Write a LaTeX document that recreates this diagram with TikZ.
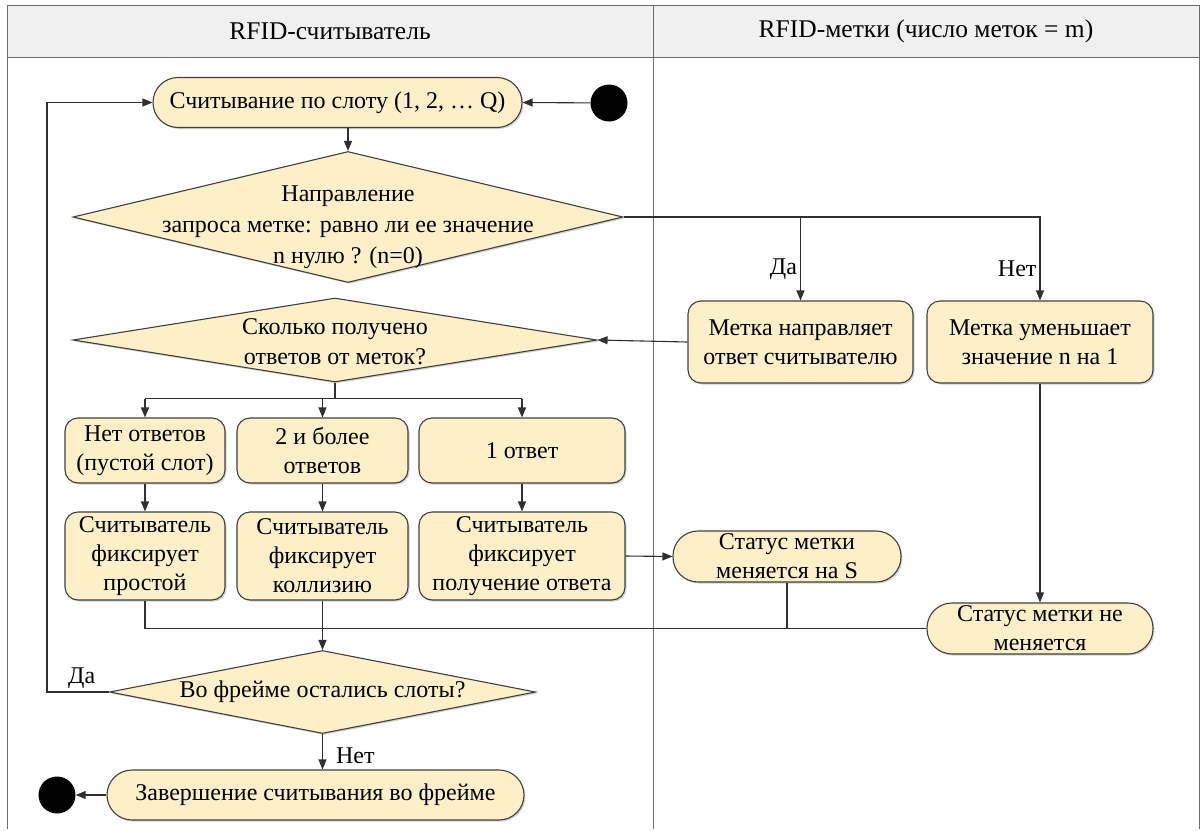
\documentclass[tikz,border=0pt]{standalone}
\usepackage{fontspec}
\setmainfont{Liberation Serif}
\usetikzlibrary{arrows.meta,shapes.geometric,shadows}
\definecolor{nodefill}{HTML}{FDEFC8}
\definecolor{nodeline}{HTML}{404040}
\definecolor{linecol}{HTML}{303030}
\definecolor{hdrfill}{HTML}{F0F0F0}
\definecolor{framecol}{HTML}{6E6E6E}
\begin{document}
\begin{tikzpicture}[x=1pt,y=-1pt,
  every node/.style={font=\fontsize{24}{29}\selectfont, text=black},
  shade/.style={drop shadow={shadow xshift=1.5pt, shadow yshift=-1.5pt, opacity=0.18, fill=black}},
  box/.style={shade, draw=nodeline, line width=1.1pt, fill=nodefill, rounded corners=13pt, align=center, inner sep=0pt},
  pill/.style={box, rounded corners=#1},
  dia/.style={shade, draw=nodeline, line width=1.1pt, fill=nodefill, diamond, inner sep=0pt},
  txt/.style={align=center, inner sep=0pt},
  hdr/.style={font=\fontsize{25.5}{30}\selectfont},
  dot/.style={circle, fill=black, minimum size=37pt, inner sep=0pt},
  arr/.style={draw=linecol, line width=1.1pt, -{Triangle[length=10pt,width=8pt]}},
  con/.style={draw=linecol, line width=1.1pt},
  lbl/.style={inner sep=3pt}
]
\useasboundingbox (0,0) rectangle (1201,830);
% swimlane frame
\fill[hdrfill] (7,5) rectangle (1199,57);
\draw[framecol, line width=1pt] (7,829) -- (7,5) -- (1199,5) -- (1199,829);
\draw[framecol, line width=1pt] (7,57) -- (1199,57);
\draw[framecol, line width=1pt] (653,5) -- (653,829);
\node[hdr] (hL) at (330,31) {RFID-считыватель};
\node[hdr] (hR) at (926,31) {RFID-метки (число меток = m)};

% nodes
\node[pill=25pt, minimum width=369pt, minimum height=50pt] (start) at (337.5,102.5) {Считывание по слоту (1, 2, … Q)};
\node[dot] (sdot) at (609,103) {};
\node[dia, minimum width=550pt, minimum height=131pt] (d1) at (348,217) {};
\node[txt, font=\fontsize{24}{31}\selectfont] (d1t) at (348,227) {Направление\\запроса метке: равно ли ее значение\\n нулю ? (n=0)};
\node[dia, minimum width=524pt, minimum height=84pt] (d2) at (335,340) {};
\node[txt, font=\fontsize{24}{30}\selectfont] (d2t) at (335,342) {Сколько получено\\ответов от меток?};
\node[box, minimum width=225pt, minimum height=82pt] (mA) at (800.5,342) {Метка направляет\\ответ считывателю};
\node[box, minimum width=226pt, minimum height=82pt] (mB) at (1040,342) {Метка уменьшает\\значение n на 1};

\node[box, minimum width=160pt, minimum height=65pt] (bA) at (145,450.5) {Нет ответов\\(пустой слот)};
\node[box, minimum width=171pt, minimum height=65pt] (bB) at (322.5,450.5) {2 и более\\ответов};
\node[box, minimum width=206pt, minimum height=65pt] (bC) at (522,450.5) {1 ответ};
\node[box, minimum width=160pt, minimum height=88pt] (cA) at (145,556) {Считыватель\\фиксирует\\простой};
\node[box, minimum width=171pt, minimum height=88pt] (cB) at (322.5,556) {Считыватель\\фиксирует\\коллизию};
\node[box, minimum width=206pt, minimum height=88pt] (cC) at (522,556) {Считыватель\\фиксирует\\получение ответа};

\node[pill=25pt, minimum width=228pt, minimum height=51pt] (sS) at (787,556.5) {Статус метки\\меняется на S};
\node[pill=25pt, minimum width=226pt, minimum height=51pt] (sN) at (1040,628.5) {Статус метки не\\меняется};

\node[dia, minimum width=426pt, minimum height=83pt] (d3) at (322.5,692) {};
\node[txt] (d3t) at (322.5,692) {Во фрейме остались слоты?};
\node[pill=25pt, minimum width=417pt, minimum height=50pt] (endn) at (315.5,795) {Завершение считывания во фрейме};
\node[dot] (edot) at (57,795) {};
\coordinate (lp) at (47,0);

% connectors
\draw[arr] (sdot) -- (start.east);
\draw[arr] (start.south -| d1.north) -- (d1.north);
\draw[arr] (d1.east) -| node[lbl, pos=0.81, left] {Нет} (mB.north);
\draw[arr] (d1.east -| mA.north) -- node[lbl, pos=0.62, left] {Да} (mA.north);
\draw[arr] (mA.west) -- (d2.east);
\draw[con] (d2.south) -- ++(0,16) coordinate (br);
\draw[con] (br -| bA.north) -- (br -| bC.north);
\draw[arr] (br -| bA.north) -- (bA.north);
\draw[arr] (br -| bB.north) -- (bB.north);
\draw[arr] (br -| bC.north) -- (bC.north);
\draw[arr] (bA) -- (cA);
\draw[arr] (bB) -- (cB);
\draw[arr] (bC) -- (cC);
\draw[arr] (cC.east) -- (sS.west);
\draw[arr] (mB.south) -- (sN.north);
\draw[con] (sN.west) -- (sN.west -| cB.south);
\draw[con] (sS.south) -- (sS.south |- sN.west);
\draw[con] (cA.south) |- (cB.south |- sN.west);
\draw[arr] (cB.south) -- (d3.north);
\draw[arr] (d3.west) -- node[lbl, pos=0.44, above] {Да} (d3.west -| lp) -- (lp |- start.west) -- (start.west);
\draw[arr] (d3.south) -- node[lbl, pos=0.6, right, xshift=10pt] {Нет} (d3.south |- endn.north);
\draw[arr] (endn.west) -- (edot);
\end{tikzpicture}
\end{document}
